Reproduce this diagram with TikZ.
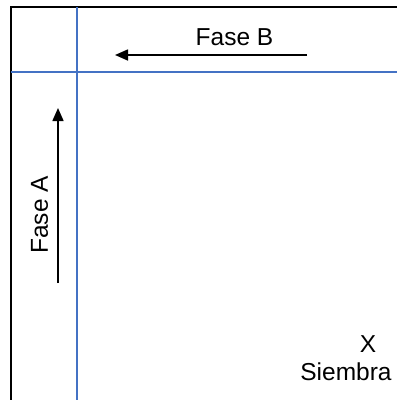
\documentclass[tikz,border=0pt]{standalone}
\usepackage{fontspec}
\setmainfont{Liberation Sans}
\usetikzlibrary{arrows.meta}
\definecolor{gridblue}{RGB}{68,114,196}
\begin{document}
\begin{tikzpicture}[x=1pt,y=-1pt,
  frame/.style={line width=2.4pt,black},
  divider/.style={line width=2pt,gridblue},
  phasearrow/.style={line width=1.6pt,-{Triangle[length=13pt,width=11pt]}},
  lbl/.style={font=\fontsize{24.5}{29}\selectfont,inner sep=0pt}]
\useasboundingbox (0,0) rectangle (397,400);
\fill[white] (0,0) rectangle (397,400);
% outer frame (open to the right and bottom)
\draw[frame] (11,400) -- (11,7) -- (397,7);
% blue dividing lines
\draw[divider] (77,7) -- (77,400);
\draw[divider] (11,72) -- (397,72);
% phase B arrow and label
\coordinate (bstart) at (307,55);
\coordinate (bend) at (115,55);
\draw[phasearrow] (bstart) -- (bend);
\node[lbl,anchor=base] (faseB) at (234.5,45) {Fase B};
% phase A arrow and label
\coordinate (astart) at (58,283);
\coordinate (aend) at (58,108);
\draw[phasearrow] (astart) -- (aend);
\node[lbl,rotate=90,anchor=base] (faseA) at (48,215) {Fase A};
% sowing mark
\node[lbl,anchor=base] (x) at (368,352) {X};
\node[lbl,anchor=base] (siembra) at (346,380) {Siembra};
\end{tikzpicture}
\end{document}
